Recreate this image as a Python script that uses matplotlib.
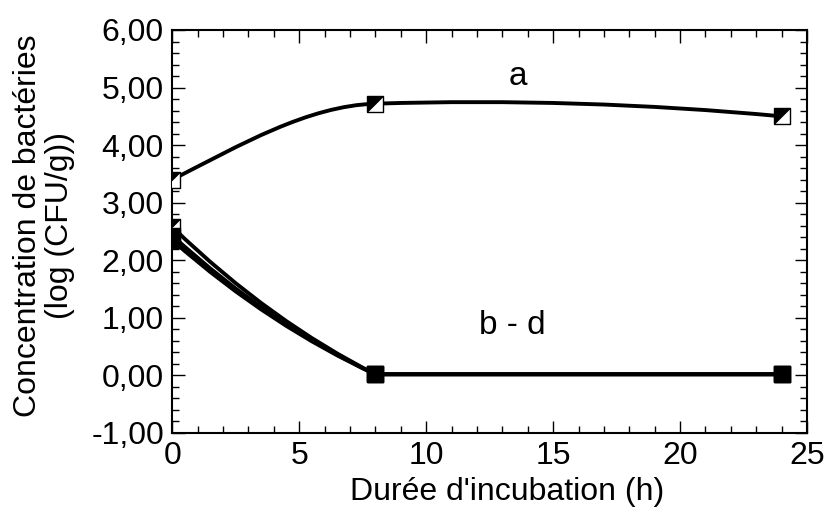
import numpy as np
import matplotlib
matplotlib.use('Agg')
import matplotlib.pyplot as plt
from matplotlib.path import Path
from matplotlib.patches import PathPatch
from matplotlib.ticker import MultipleLocator, FuncFormatter

plt.rcParams['font.family'] = ['Liberation Sans', 'DejaVu Sans']

# incubation time (h)
hours = [0, 8, 24]
# log(CFU/g) for each sample
series_a = [3.40, 4.72, 4.50]
series_b = [2.58, 0.02, 0.02]
series_c = [2.43, 0.02, 0.02]
series_d = [2.35, 0.02, 0.02]

label_a = "a"
label_bd = "b - d"


def tangents(x, y):
    # left / right slopes at every point, for a smooth line like the original
    x = np.asarray(x, float)
    y = np.asarray(y, float)
    h = np.diff(x)
    d = np.diff(y) / h
    left = np.zeros_like(y)
    right = np.zeros_like(y)
    for i in range(1, len(y) - 1):
        if d[i] == 0 or d[i - 1] == 0:
            left[i] = 0.7 * d[i - 1]
            right[i] = 0.7 * d[i]
        elif d[i - 1] * d[i] < 0:
            left[i] = right[i] = 0.3 * (y[i + 1] - y[i - 1]) / (x[i + 1] - x[i - 1])
        else:
            left[i] = right[i] = 2.0 / (1.0 / d[i - 1] + 1.0 / d[i])
    for end, (h0, h1, d0, d1) in ((0, (h[0], h[1], d[0], d[1])),
                                  (-1, (h[-1], h[-2], d[-1], d[-2]))):
        s = ((2 * h0 + h1) * d0 - h0 * d1) / (h0 + h1)
        if np.sign(s) != np.sign(d0):
            s = 0.0
        elif np.sign(d0) != np.sign(d1) and abs(s) > abs(3 * d0):
            s = 3 * d0
        left[end] = right[end] = s
    return left, right


def smooth_path(x, y):
    left, right = tangents(x, y)
    verts = [(x[0], y[0])]
    codes = [Path.MOVETO]
    for i in range(len(x) - 1):
        h = x[i + 1] - x[i]
        verts += [(x[i] + h / 3, y[i] + right[i] * h / 3),
                  (x[i + 1] - h / 3, y[i + 1] - left[i + 1] * h / 3),
                  (x[i + 1], y[i + 1])]
        codes += [Path.CURVE4] * 3
    return Path(verts, codes)


square = [(-1, -1), (1, -1), (1, 1), (-1, 1), (-1, -1)]
corner = [(-1, 1), (1, 1), (-1, -1), (-1, 1)]

fig = plt.figure(figsize=(8.32, 5.17), dpi=100)
ax = fig.add_axes([0.207, 0.1625, 0.763, 0.7795])

for ys in (series_a, series_b, series_c, series_d):
    ax.add_patch(PathPatch(smooth_path(hours, ys), fill=False,
                           edgecolor='black', lw=2.8, capstyle='round'))

# half-filled markers (open square with dark corner)
for ys in (series_a, series_b):
    ax.plot(hours, ys, ls='none', marker=square, ms=11, mfc='white',
            mec='black', mew=1.0, zorder=3)
    ax.plot(hours, ys, ls='none', marker=corner, ms=11, mfc='black',
            mec='black', mew=0.5, zorder=4)
for ys in (series_c, series_d):
    ax.plot(hours, ys, ls='none', marker=square, ms=11, mfc='black',
            mec='black', mew=1.0, zorder=5)

ax.text(13.6, 5.2, label_a, fontsize=24, ha='center', va='center')
ax.text(13.4, 0.87, label_bd, fontsize=24, ha='center', va='center')

ax.set_xlim(0, 25)
ax.set_ylim(-1, 6)
ax.xaxis.set_major_locator(MultipleLocator(5))
ax.xaxis.set_minor_locator(MultipleLocator(1))
ax.yaxis.set_major_locator(MultipleLocator(1))
ax.yaxis.set_minor_locator(MultipleLocator(0.2))
ax.yaxis.set_major_formatter(FuncFormatter(lambda v, p: f"{v:.2f}".replace('.', ',')))
ax.tick_params(which='both', direction='in', top=True, right=True, width=1.0)
ax.tick_params(which='major', length=9, labelsize=23, pad=6)
ax.tick_params(which='minor', length=5)
for sp in ax.spines.values():
    sp.set_linewidth(1.5)

ax.set_xlabel("Durée d'incubation (h)", fontsize=23)
ax.set_ylabel("Concentration de bactéries\n(log (CFU/g))", fontsize=23,
              linespacing=1.1)
ax.xaxis.set_label_coords(0.528, -0.11)
ax.yaxis.set_label_coords(-0.153, 0.515)

fig.savefig('out.png', dpi=100)
